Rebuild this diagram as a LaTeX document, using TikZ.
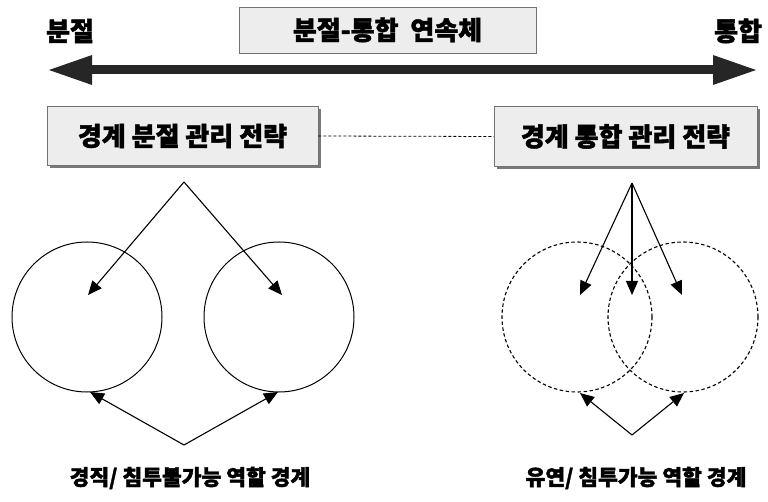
\documentclass[tikz,border=0pt]{standalone}
\usepackage{fontspec}
\newfontfamily\kr{Noto Sans CJK KR}[BoldFeatures={FakeBold=1.6}]
\usetikzlibrary{arrows.meta,shadows}
\begin{document}
\begin{tikzpicture}[x=1pt,y=-1pt,
  lbl/.style={font=\kr\bfseries\fontsize{26}{28}\selectfont, inner sep=0pt},
  sublbl/.style={font=\kr\bfseries\fontsize{21.5}{24}\selectfont, inner sep=0pt},
  box/.style={draw=black!55, fill=black!7, line width=0.8pt, inner sep=0pt},
  sbox/.style={box, drop shadow={shadow xshift=2.5pt, shadow yshift=-3pt, opacity=0.7, fill=black!75}},
  circ/.style={circle, draw, line width=1pt, minimum size=150pt, inner sep=0pt},
  dcirc/.style={circ, dashed, line width=1.1pt, dash pattern=on 3.5pt off 2.5pt},
  arr/.style={line width=1.1pt, -{Triangle[length=14pt,width=12pt]}},
  big/.style={line width=9pt, draw=black!85, {Triangle[length=45pt,width=27pt]}-{Triangle[length=45pt,width=27pt]}}
]
\useasboundingbox (0,0) rectangle (768,502);
% top
\node[lbl] (bun) at (70,31) {분절};
\node[lbl] (tong) at (738,31) {통합};
\node[box, minimum width=297pt, minimum height=46pt] (cont) at (387.5,30) {};
\node[lbl] at (cont.center) {분절-통합\ \ 연속체};
\coordinate (L) at (47,70);
\coordinate (R) at (758,70);
\draw[big] (L) -- (R);
% strategy boxes
\node[sbox, minimum width=271pt, minimum height=59pt] (lbox) at (182.5,136) {};
\node[lbl] at (lbox.center) {경계 분절 관리 전략};
\node[sbox, minimum width=263pt, minimum height=60pt] (rbox) at (625.5,136.5) {};
\node[lbl] at (rbox.center) {경계 통합 관리 전략};
\draw[line width=0.8pt, dashed, dash pattern=on 3pt off 2pt] (lbox.east) -- (rbox.west);
% left circles
\node[circ] (c1) at (87,317) {};
\node[circ] (c2) at (279,317) {};
\coordinate (la) at (184,182);
\coordinate (lt1) at (88,295);
\coordinate (lt2) at (282,295);
\draw[arr] (la) -- (lt1);
\draw[arr] (la) -- (lt2);
\coordinate (lb) at (184,445);
\coordinate (lb1) at (90,392);
\coordinate (lb2) at (278,392);
\draw[arr] (lb) -- (lb1);
\draw[arr] (lb) -- (lb2);
% right circles
\node[dcirc] (d1) at (577,317) {};
\node[dcirc] (d2) at (683,317) {};
\coordinate (ra) at (632,183);
\coordinate (rt1) at (580,295);
\coordinate (rt2) at (632,295);
\coordinate (rt3) at (682,295);
\draw[arr] (ra) -- (rt1);
\draw[arr] (ra) -- (rt2);
\draw[arr] (ra) -- (rt3);
\coordinate (rb) at (632,435);
\coordinate (rb1) at (580,393);
\coordinate (rb2) at (684,393);
\draw[arr] (rb) -- (rb1);
\draw[arr] (rb) -- (rb2);
% bottom labels
\node[sublbl] (ll) at (190,478) {경직/ 침투불가능 역할 경계};
\node[sublbl] (rl) at (636,478) {유연/ 침투가능 역할 경계};
\end{tikzpicture}
\end{document}
